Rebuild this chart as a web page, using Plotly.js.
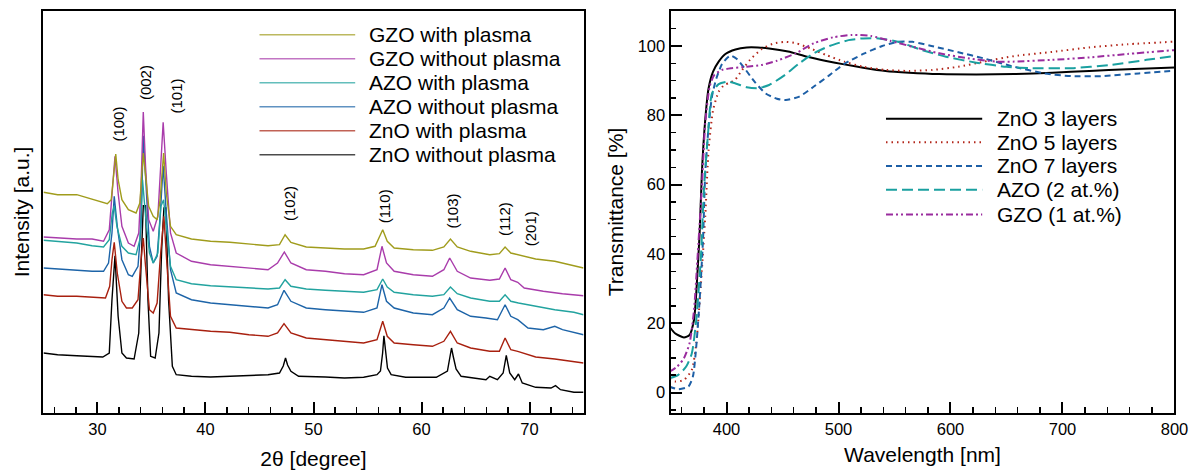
<!DOCTYPE html>
<html>
<head>
<meta charset="utf-8">
<script src="https://cdn.plot.ly/plotly-3.0.1.min.js"></script>
<style>html,body{margin:0;padding:0;background:#fff;}#chart{width:1190px;height:473px;}</style>
</head>
<body>
<div id="chart"></div>
<script>
// ---------- XRD (left panel): 2θ [degree] vs intensity [a.u.] ----------
const xrdNames = ["GZO with plasma", "GZO without plasma", "AZO with plasma", "AZO without plasma", "ZnO with plasma", "ZnO without plasma"];
const xrdColors = ["#a09c1c", "#a93cab", "#22a39f", "#1d64a8", "#a8200f", "#000000"];

const gzoPlasmaX = [25.0,26.31,28.08,29.14,30.21,30.91,31.27,31.48,31.69,31.91,32.26,32.86,33.57,33.92,34.24,34.74,35.16,35.52,35.80,36.12,36.37,36.76,37.29,38.70,40.47,42.25,44.02,45.79,46.85,47.37,47.91,49.33,51.10,52.87,54.64,55.70,56.41,56.83,57.47,59.24,61.01,62.07,62.68,63.31,64.55,66.32,67.21,67.74,68.27,68.98,70.57,72.34,74.11,75.0];
const gzoPlasmaY = [220.7,218.3,218.3,215,211.7,209.3,213.3,240,259,233.3,213.3,203.3,200,210,260,206.7,196.7,193.3,213.3,260,220,186.7,178.3,174,171.7,170.7,169.3,167.3,168.3,178.3,170.7,166,165,164,164,166.7,183.3,171.7,165,163.3,162.7,166,174,166,161.7,158.3,159.3,166,160,158.3,154,151.7,147.3,145];

const gzoNoPlasmaX = [25.0,26.31,28.08,29.50,30.56,31.09,31.44,31.62,31.91,32.26,32.86,33.39,33.82,34.03,34.24,34.45,34.74,35.16,35.59,35.87,36.08,36.37,36.76,37.29,38.70,40.47,42.25,44.02,45.79,46.67,47.30,47.91,49.33,51.10,52.87,54.64,55.88,56.34,56.76,57.47,59.24,61.01,62.07,62.61,63.31,64.55,66.32,67.21,67.74,68.27,68.91,69.51,71.28,73.05,75.0];
const gzoNoPlasmaY = [176,175,174,174,171.7,183.3,226.7,256.7,220,186.7,170,166.7,180,226.7,301,246.7,193.3,181.7,196.7,246.7,290.7,240,180,160,151.7,148.3,146.7,145,143.3,150,161,150,143.3,141.7,139.3,138.3,143.3,166.7,150,141.7,138.3,136.7,143.3,155,141.7,135,132.7,134,145,133.3,130.7,125,121.7,119.3,117.3];

const azoPlasmaX = [25.0,26.31,28.08,29.50,30.56,31.09,31.37,31.55,31.80,32.26,32.86,33.57,33.92,34.17,34.45,34.81,35.16,35.59,35.87,36.12,36.37,36.76,37.29,38.70,40.47,42.25,44.02,45.79,46.85,47.37,47.91,49.33,51.10,52.87,54.64,55.88,56.41,56.83,57.47,59.24,61.01,62.07,62.68,63.31,64.55,66.32,67.21,67.74,68.27,68.98,70.57,72.34,74.11,75.0];
const azoPlasmaY = [172.7,171.7,170,167.3,166,173.3,200,206.7,186.7,166.7,160,158.3,173.3,233.3,196.7,160,150,160,206.7,213.3,186.7,146.7,133.3,129.3,127.3,126,125,124,125,133.3,126.7,124,122.7,121.7,120.7,123.3,134,126,120.7,118.3,116.7,118.3,126,119.3,115,111.7,111.7,118.3,111.7,110,106.7,103.3,100.7,98.3];

const azoNoPlasmaX = [25.0,26.31,28.08,29.50,30.56,31.02,31.34,31.55,31.83,32.26,32.86,33.22,33.75,34.03,34.24,34.53,34.81,35.16,35.52,35.80,36.08,36.37,36.76,37.29,38.70,40.47,42.25,44.02,45.79,46.67,47.27,47.91,49.33,51.10,52.87,54.64,55.88,56.34,56.76,57.47,59.24,61.01,62.07,62.61,63.31,64.55,65.97,67.03,67.74,68.27,68.91,69.86,71.28,72.34,73.05,75.0];
const azoNoPlasmaY = [145,144,142.7,141.7,141.7,150,180,216.7,186.7,153.3,138.3,136.7,146.7,186.7,277.3,226.7,166.7,150,156.7,196.7,247.3,200,143.3,120,113.3,110,108.3,106.7,105,108.3,122.7,111.7,105,103.3,101.7,100.7,105,128.3,111.7,105,100,98.3,105,115,103.3,96.7,95,93.3,108.3,96.7,93.3,85,83.3,86.7,83.3,78.3];

const znoPlasmaX = [25.0,26.31,28.08,29.50,30.74,31.13,31.34,31.55,31.83,32.26,32.68,33.22,33.75,34.03,34.24,34.45,34.81,35.16,35.52,35.80,36.15,36.44,36.76,37.29,38.70,40.47,42.25,44.02,45.79,46.67,47.27,47.91,49.33,51.10,52.87,54.64,55.88,56.41,56.83,57.47,59.24,61.01,62.07,62.68,63.31,64.55,66.32,67.21,67.74,68.27,68.91,70.57,72.34,74.11,75.0];
const znoPlasmaY = [118.3,116.7,116.7,116,115,126.7,153.3,170.7,140,111.7,105,105,113.3,153.3,175,146.7,103.3,100,110,153.3,196.7,146.7,96.7,85,83.3,81.7,80.7,78.3,76.7,80,89.3,80,75,73.3,71.7,70,73.3,91.7,76.7,70,68.3,66.7,71.7,81.7,70,65,61.7,61.7,75,63.3,61.7,56,54,51.7,50];

const znoNoPlasmaX = [25.0,26.31,28.08,29.50,30.49,31.09,31.34,31.62,31.91,32.26,32.68,33.39,33.82,34.03,34.24,34.45,34.67,34.92,35.34,35.69,35.94,36.15,36.33,36.58,36.93,37.29,38.70,40.47,42.25,44.02,45.79,46.85,47.20,47.41,47.60,47.91,48.62,51.10,52.87,54.64,55.88,56.20,56.40,56.52,56.65,56.85,57.19,58.53,59.95,61.37,62.40,62.60,62.78,62.95,63.20,63.67,64.91,65.97,66.32,67.03,67.56,67.85,68.17,68.63,68.98,69.33,70.57,71.99,72.41,72.87,74.11,75.0];
const znoNoPlasmaY = [60,58.3,57.3,56.7,56,60,113.3,157.3,96.7,60,55,54,80,146.7,207.3,207.3,113.3,56.7,55,80,163.3,205,205,113.3,46.7,38.3,36.7,36,36.7,37.3,38.3,40,47,55,48,41.7,36.7,36,35,35.7,38.3,42,60,77.3,62,45,38.3,35.7,35.7,35.7,42,55,65,56,44,36.7,35,33.3,36.7,33.3,40,57.7,40,33.3,39,30,25.7,25,27.3,23.3,20.7,20.7];

const xrdX = [gzoPlasmaX, gzoNoPlasmaX, azoPlasmaX, azoNoPlasmaX, znoPlasmaX, znoNoPlasmaX];
const xrdY = [gzoPlasmaY, gzoNoPlasmaY, azoPlasmaY, azoNoPlasmaY, znoPlasmaY, znoNoPlasmaY];

// peak (hkl) labels
const peakLabels = ["(100)", "(002)", "(101)", "(102)", "(110)", "(103)", "(112)", "(201)"];
const peakLabelX = [31.98, 34.38, 37.29, 47.73, 56.52, 62.78, 67.67, 70.04];
const peakLabelY = [289.3, 330.7, 316.7, 210, 206.7, 202, 194.3, 184.7];

// ---------- Transmittance (right panel) ----------
const transNames = ["ZnO 3 layers", "ZnO 5 layers", "ZnO 7 layers", "AZO (2 at.%)", "GZO (1 at.%)"];
const transColors = ["#000000", "#b3261a", "#1d5fa6", "#1aa0a0", "#9a2c9e"];
const transDash = ["solid", "1.5px,4px", "6px,4px", "11px,5px", "7px,3px,2px,3px,2px,3px"];

const zno3X = [350,354,362,367,371,373,376,378,381,384,388,393,399,408,418,428,438,455,472,489,505,522,542,563,590,623,657,691,724,758,800];
const zno3Y = [18.6,17.1,15.9,16.6,21,28.7,46,63.3,78.7,87.8,92.6,95.5,97.7,99,99.6,99.6,99.3,98.4,96.9,95.7,94.7,93.75,92.8,92.3,91.9,91.8,91.9,92.3,92.8,93.3,93.8];

const zno5X = [349,354,362,369,373,377,381,384,388,393,398,403,408,414,421,431,441,452,462,475,489,505,522,542,563,584,607,630,657,691,724,758,800];
const zno5Y = [3.65,3.2,3.65,6.5,14.2,30.6,50.8,70,81.5,86.8,88.75,89.4,90.4,93.1,96,99,100.6,101.2,100.8,99.3,97.4,95.5,94,93.1,92.8,93.1,94,95.5,97.1,98.3,99.6,100.5,101.25];

const zno7X = [349,357,366,370,373,376,379,381,384,387,391,396,401,404,409,416,425,435,445,453,465,478,492,505,522,539,553,566,583,607,630,657,684,708,735,768,800];
const zno7Y = [1.7,0.96,1.7,4.6,13.3,26.7,44,63.3,76.7,85.4,90.7,94.8,96.7,97.2,96.3,93.6,89.7,86.3,84.8,84.4,85.4,88.3,91.6,94.8,97.7,100,101.2,101.2,100,98.2,96.4,94,92.1,91.3,91.3,92.1,92.9];

const azoX = [349,357,364,369,373,377,380,384,387,393,401,408,418,428,438,452,465,478,492,509,522,536,553,573,596,623,650,673,708,742,775,800];
const azoY = [4.1,5.1,7.5,11.3,21,38.3,59.4,76.7,86.3,89,89.7,89.2,88.1,87.8,88.75,91.6,95,97.9,100,101.7,102.2,102.2,101.25,99,96.9,95.2,94,93.6,93.6,94.5,96,97.1];

const gzoX = [349,356,362,367,371,374,378,381,385,389,396,404,418,431,445,462,478,495,512,529,546,566,590,617,641,657,691,724,758,800];
const gzoY = [6,7.5,9.9,14.2,23.8,38.3,59.4,77.7,88.3,91.6,93.1,93.6,94,94.5,95.75,97.9,100.8,102.5,103.2,102.9,101.5,99.8,97.9,96.4,95.5,95.5,96,96.7,97.7,98.8];

const transX = [zno3X, zno5X, zno7X, azoX, gzoX];
const transY = [zno3Y, zno5Y, zno7Y, azoY, gzoY];

// ---------- build ----------
const FONT = "Liberation Sans, Arial, Helvetica, sans-serif";
const traces = [];
for (let i = xrdNames.length - 1; i >= 0; i--) {
  traces.push({x: xrdX[i], y: xrdY[i], name: xrdNames[i], type: "scatter", mode: "lines",
    line: {color: xrdColors[i], width: 1.4}, xaxis: "x", yaxis: "y", showlegend: false});
}
for (let i = 0; i < transNames.length; i++) {
  traces.push({x: transX[i], y: transY[i], name: transNames[i], type: "scatter", mode: "lines",
    line: {color: transColors[i], width: 2, dash: transDash[i], shape: "spline", smoothing: 0.6},
    xaxis: "x2", yaxis: "y2", showlegend: false});
}

const annotations = [];
const shapes = [];
peakLabels.forEach((t, i) => annotations.push({x: peakLabelX[i], y: peakLabelY[i], xref: "x", yref: "y",
  text: t, showarrow: false, textangle: -90, font: {family: FONT, size: 15, color: "#000"}}));

// left custom legend (long sample lines, as in the reference)
const legL = {x0: 45.0, x1: 53.86, xt: 54.98, y: [378.3, 354.3, 330.3, 306.3, 282.3, 258.3]};
xrdNames.forEach((n, i) => {
  shapes.push({type: "line", xref: "x", yref: "y", x0: legL.x0, x1: legL.x1, y0: legL.y[i], y1: legL.y[i],
    line: {color: xrdColors[i], width: 1.5}, opacity: 0.7});
  annotations.push({x: legL.xt, y: legL.y[i], xref: "x", yref: "y", text: n, showarrow: false,
    xanchor: "left", yanchor: "middle", font: {family: FONT, size: 21, color: "#000"}});
});
// right custom legend
const legR = {x0: 542.4, x1: 628.3, xt: 639.4, y: [79.0, 72.2, 65.4, 58.5, 51.4]};
transNames.forEach((n, i) => {
  shapes.push({type: "line", xref: "x2", yref: "y2", x0: legR.x0, x1: legR.x1, y0: legR.y[i], y1: legR.y[i],
    line: {color: transColors[i], width: 2, dash: transDash[i]}});
  annotations.push({x: legR.xt, y: legR.y[i], xref: "x2", yref: "y2", text: n, showarrow: false,
    xanchor: "left", yanchor: "middle", font: {family: FONT, size: 21, color: "#000"}});
});

const axBase = {showline: true, linecolor: "#000", linewidth: 2, mirror: true, showgrid: false, zeroline: false,
  ticks: "inside", tickcolor: "#000", tickwidth: 2, ticklen: 11, automargin: false,
  tickfont: {family: FONT, size: 16.5, color: "#000"}};

const layout = {
  width: 1190, height: 473, autosize: false,
  margin: {l: 0, r: 0, t: 0, b: 0},
  paper_bgcolor: "#fff", plot_bgcolor: "#fff",
  font: {family: FONT, color: "#000"},
  showlegend: false,
  xaxis: Object.assign({}, axBase, {domain: [0.03655, 0.49034], range: [25, 75], dtick: 10, tick0: 0,
    minor: {dtick: 2, tick0: 0, ticks: "inside", ticklen: 5.5, tickwidth: 1.5, tickcolor: "#000"},
    title: {text: "2θ [degree]", font: {family: FONT, size: 21}, standoff: 15}}),
  yaxis: Object.assign({}, axBase, {domain: [0.12685, 0.97674], range: [0, 402], ticks: "", showticklabels: false,
    title: {text: "Intensity [a.u.]", font: {family: FONT, size: 21}, standoff: 6}}),
  xaxis2: Object.assign({}, axBase, {anchor: "y2", domain: [0.56345, 0.98697], range: [350, 800], dtick: 100, tick0: 0,
    minor: {dtick: 20, tick0: 0, ticks: "inside", ticklen: 5.5, tickwidth: 1.5, tickcolor: "#000"},
    title: {text: "Wavelength [nm]", font: {family: FONT, size: 21}, standoff: 11}}),
  yaxis2: Object.assign({}, axBase, {anchor: "x2", domain: [0.12685, 0.97674], range: [-5.9, 110.1], dtick: 20, tick0: 0,
    minor: {dtick: 5, tick0: 0, ticks: "inside", ticklen: 5.5, tickwidth: 1.5, tickcolor: "#000"},
    title: {text: "Transmittance [%]", font: {family: FONT, size: 21}, standoff: 8}}),
  annotations: annotations,
  shapes: shapes
};

Plotly.newPlot("chart", traces, layout, {displayModeBar: false, staticPlot: true});
</script>
</body>
</html>
